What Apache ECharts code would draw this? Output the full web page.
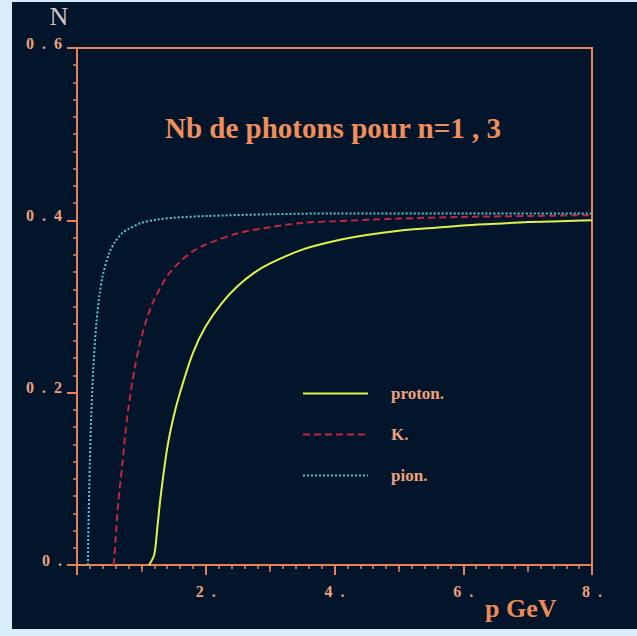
<!DOCTYPE html>
<html>
<head>
<meta charset="utf-8">
<script src="https://cdn.jsdelivr.net/npm/echarts@6/dist/echarts.min.js"></script>
<style>
  html, body { margin: 0; padding: 0; width: 637px; height: 636px; background: #d8edfb; overflow: hidden; }
  #chart { position: absolute; left: 12px; top: 2px; width: 625px; height: 627px; }
</style>
</head>
<body>
<div id="chart"></div>
<script>
// values
var protonP = [1.12, 1.2, 1.25, 1.3, 1.4, 1.5, 1.6, 1.8, 2.0, 2.25, 2.5, 2.75, 3.0, 3.5, 4.0, 4.5, 5.0, 5.5, 6.0, 6.5, 7.0, 7.5, 8.0];
var protonN = [0, 0.012, 0.045, 0.08, 0.135, 0.172, 0.200, 0.246, 0.277, 0.304, 0.324, 0.339, 0.350, 0.366, 0.376, 0.383, 0.388, 0.391, 0.394, 0.396, 0.398, 0.399, 0.400];

var kaonP = [0.57, 0.6, 0.64, 0.7, 0.75, 0.8, 0.9, 1.0, 1.1, 1.2, 1.4, 1.6, 1.8, 2.0, 2.5, 3.0, 3.5, 4.0, 5.0, 6.0, 7.0, 8.0];
var kaonN = [0, 0.03, 0.072, 0.114, 0.152, 0.183, 0.230, 0.264, 0.289, 0.308, 0.335, 0.352, 0.364, 0.372, 0.385, 0.392, 0.397, 0.399, 0.402, 0.404, 0.405, 0.406];

var pionP = [0.17, 0.175, 0.18, 0.19, 0.2, 0.22, 0.25, 0.3, 0.35, 0.4, 0.5, 0.6, 0.7, 0.8, 1.0, 1.25, 1.5, 2.0, 3.0, 4.0, 6.0, 8.0];
var pionN = [0, 0.032, 0.052, 0.089, 0.120, 0.170, 0.224, 0.280, 0.314, 0.336, 0.362, 0.376, 0.385, 0.390, 0.397, 0.401, 0.403, 0.405, 0.407, 0.408, 0.408, 0.408];

var seriesNames = ['proton.', 'K.', 'pion.'];
var xTicks = [0, 2, 4, 6, 8];
var yTicks = [0, 0.2, 0.4, 0.6];

var orange = '#e8825a';
var labelColor = '#eca27e';
var serif = 'Liberation Serif';
var sp = '\u2002';

function pairs (xs, ys) {
  return xs.map(function (x, i) { return [x, ys[i]]; });
}

var myChart = echarts.init(document.getElementById('chart'), null, { renderer: 'svg' });

myChart.setOption({
  backgroundColor: '#03152a',
  animation: false,
  title: {
    text: 'Nb de photons pour n=1 , 3',
    left: 148,
    top: 106,
    textStyle: { color: '#f08f5a', fontFamily: serif, fontWeight: 'bold', fontSize: 29 }
  },
  legend: {
    orient: 'vertical',
    left: 290,
    top: 383,
    padding: 0,
    itemWidth: 65,
    itemHeight: 14,
    itemGap: 24,
    data: seriesNames,
    itemStyle: { opacity: 0 },
    textStyle: { color: labelColor, fontFamily: serif, fontWeight: 'bold', fontSize: 17, padding: [0, 0, 0, 18] }
  },
  graphic: [
    {
      type: 'text', x: 47, y: 14,
      style: { text: 'N', fill: '#d2c4c2', font: '26px "Liberation Serif"', align: 'center', verticalAlign: 'middle' }
    },
    {
      type: 'text', x: 473, y: 606,
      style: { text: 'p GeV', fill: '#f08a55', font: 'bold 26px "Liberation Serif"', align: 'left', verticalAlign: 'middle' }
    }
  ],
  grid: {
    left: 65,
    top: 46,
    width: 515,
    height: 517,
    show: true,
    borderColor: orange,
    borderWidth: 2,
    backgroundColor: 'transparent'
  },
  xAxis: [
    {
      type: 'value',
      min: xTicks[0],
      max: xTicks[xTicks.length - 1],
      interval: xTicks[1] - xTicks[0],
      position: 'bottom',
      axisLine: { lineStyle: { color: orange, width: 2 } },
      axisTick: { length: 10, lineStyle: { color: orange, width: 2 } },
      minorTick: { show: true, splitNumber: 10, length: 4, lineStyle: { color: orange, width: 1.5 } },
      splitLine: { show: false },
      axisLabel: {
        margin: 18,
        color: labelColor,
        fontFamily: serif,
        fontWeight: 'bold',
        fontSize: 16,
        formatter: function (v) { return v === 0 ? '' : v + sp + '.'; }
      }
    },
    {
      type: 'value',
      min: xTicks[0],
      max: xTicks[xTicks.length - 1],
      interval: 1,
      position: 'bottom',
      offset: 0,
      axisLine: { show: false },
      axisTick: { length: 7, lineStyle: { color: orange, width: 1.5 } },
      splitLine: { show: false },
      axisLabel: { show: false }
    }
  ],
  yAxis: {
    type: 'value',
    min: yTicks[0],
    max: yTicks[yTicks.length - 1],
    interval: yTicks[1] - yTicks[0],
    axisLine: { show: true, lineStyle: { color: orange, width: 2 } },
    axisTick: { show: true, length: 10, lineStyle: { color: orange, width: 2 } },
    minorTick: { show: true, splitNumber: 10, length: 4, lineStyle: { color: orange, width: 1.5 } },
    splitLine: { show: false },
    axisLabel: {
      margin: 15,
      color: labelColor,
      fontFamily: serif,
      fontWeight: 'bold',
      fontSize: 16,
      verticalAlign: 'bottom',
      lineHeight: 10,
      formatter: function (v) {
        var s = String(Math.round(v * 10) / 10);
        return s === '0' ? '0' + sp + '.' : s.split('.').join(sp + '.' + sp);
      }
    }
  },
  series: [
    {
      name: seriesNames[0],
      type: 'line',
      showSymbol: false,
      symbol: 'none',
      smooth: 0.3,
      data: pairs(protonP, protonN),
      lineStyle: { color: '#e2f04c', width: 2, type: 'solid' },
      itemStyle: { color: '#e2f04c' }
    },
    {
      name: seriesNames[1],
      type: 'line',
      showSymbol: false,
      symbol: 'none',
      smooth: 0.3,
      data: pairs(kaonP, kaonN),
      lineStyle: { color: '#c2263e', width: 2, type: [7, 4] },
      itemStyle: { color: '#c2263e' }
    },
    {
      name: seriesNames[2],
      type: 'line',
      showSymbol: false,
      symbol: 'none',
      smooth: 0.3,
      data: pairs(pionP, pionN),
      lineStyle: { color: '#58c6d2', width: 2, type: [2, 2] },
      itemStyle: { color: '#58c6d2' }
    }
  ]
});
</script>
</body>
</html>
